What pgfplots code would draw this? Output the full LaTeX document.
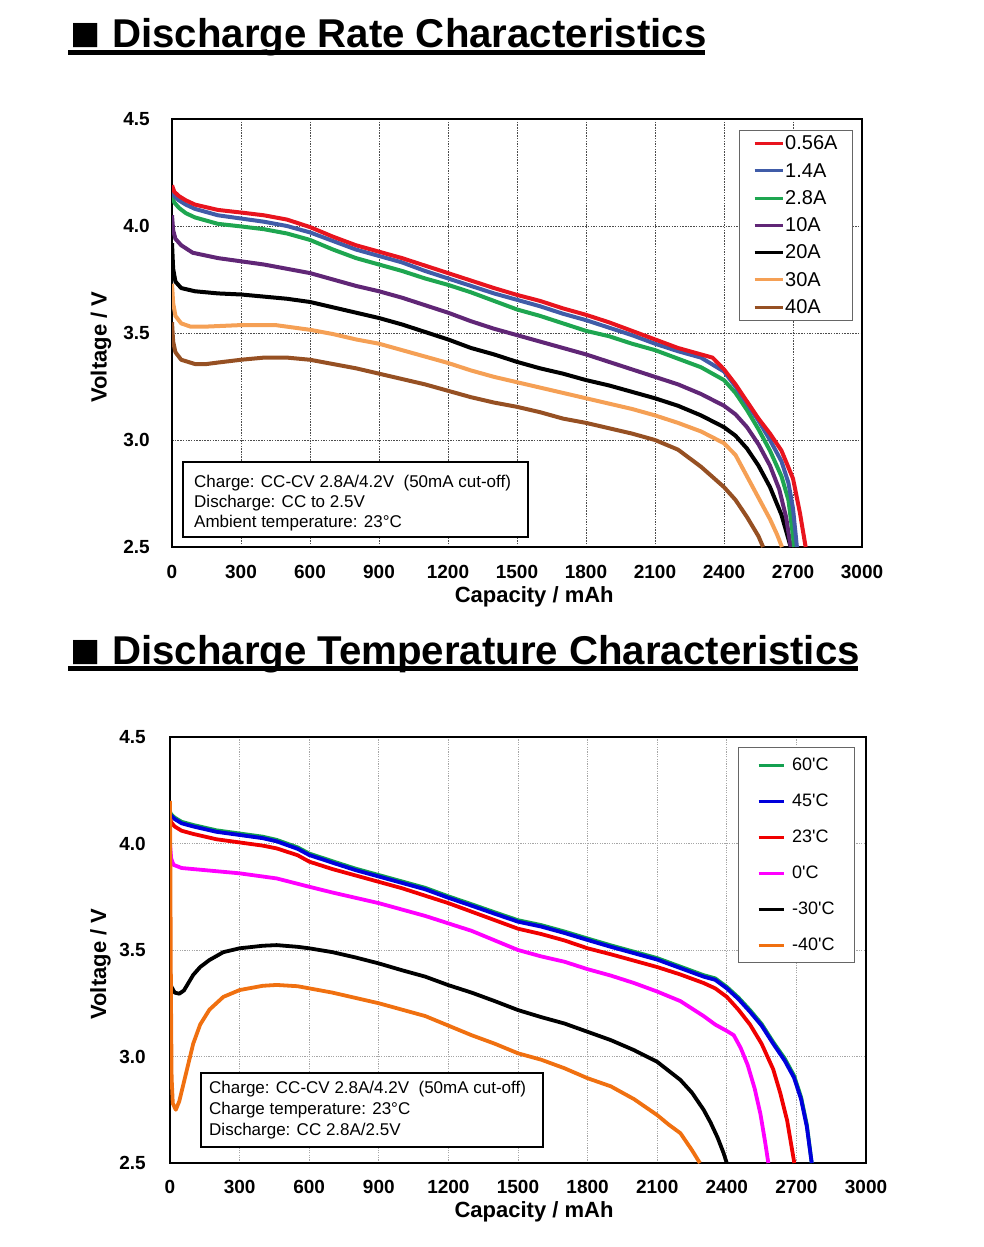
\documentclass[border=0pt]{standalone}
\usepackage{fontspec}
\setmainfont{Liberation Sans}
\usepackage{pgfplots}
\pgfplotsset{compat=1.18}
\definecolor{cRed}{RGB}{232,20,30}
\definecolor{cBlue}{RGB}{64,92,168}
\definecolor{cGreen}{RGB}{30,166,80}
\definecolor{cPurple}{RGB}{96,38,118}
\definecolor{cOrange}{RGB}{245,160,85}
\definecolor{cBrown}{RGB}{150,80,35}
\definecolor{tGreen}{RGB}{20,160,80}
\definecolor{tBlue}{RGB}{0,0,220}
\definecolor{tRed}{RGB}{240,0,0}
\definecolor{tMag}{RGB}{255,0,255}
\definecolor{tOrange}{RGB}{240,112,16}
\pgfplotsset{
 dchart/.style={
  scale only axis,
  xmin=0, xmax=3000, ymin=2.5, ymax=4.5,
  xtick={0,300,...,3000}, ytick={2.5,3.0,3.5,4.0,4.5},
  /pgf/number format/assume math mode=true,
  /pgf/number format/1000 sep={},
  yticklabel style={/pgf/number format/fixed, /pgf/number format/fixed zerofill, /pgf/number format/precision=1},
  ticklabel style={font=\fontsize{19}{19}\selectfont\bfseries, inner sep=0pt},
  label style={font=\fontsize{22}{22}\selectfont\bfseries},
  xlabel={Capacity / mAh}, ylabel={Voltage / V},
  grid=major,
  major tick length=0pt,
  axis line style={line width=2.5pt},
  legend cell align=left,
 }
}
\begin{document}
\begin{tikzpicture}
\path[use as bounding box] (0,0) rectangle (983pt,-1247pt);
% headings
\node[anchor=base west, inner sep=0pt, font=\fontsize{50}{50}\selectfont] at (70pt,-51pt) {■};
\node[anchor=base west, inner sep=0pt, font=\fontsize{40.2}{40}\selectfont\bfseries] at (112pt,-48pt) {Discharge Rate Characteristics};
\fill (68pt,-50pt) rectangle (705pt,-55pt);
\node[anchor=base west, inner sep=0pt, font=\fontsize{50}{50}\selectfont] at (70pt,-667pt) {■};
\node[anchor=base west, inner sep=0pt, font=\fontsize{40.2}{40}\selectfont\bfseries] at (112pt,-664pt) {Discharge Temperature Characteristics};
\fill (68pt,-666pt) rectangle (858pt,-671pt);

\begin{axis}[dchart, at={(172pt,-547pt)}, anchor=south west, width=690pt, height=428pt,
  xticklabel style={yshift=-18pt}, yticklabel style={xshift=-22pt},
  xlabel style={at={(axis description cs:0.525,-0.117)}, anchor=center},
  ylabel style={at={(axis description cs:-0.103,0.467)}, anchor=center},
  major grid style={gray!60!black, dash pattern=on 1.5pt off 1.2pt, line width=0.8pt},
  every axis plot/.append style={line width=4pt, line join=round},
  reverse legend,
  legend style={at={(1,1)}, anchor=north east, xshift=-9pt, yshift=-11pt, draw=gray!80!black, line width=1pt, fill=white,
    inner xsep=14pt, inner ysep=4.5pt, row sep=9.8pt, font=\fontsize{20}{20}\selectfont, nodes={inner sep=1pt}},
  legend image code/.code={\draw[line width=3pt] (0pt,0pt) -- (28pt,0pt);},
]
\addplot[cBrown] coordinates {(0,3.55)(5,3.46)(15,3.41)(40,3.375)(100,3.355)(150,3.355)(200,3.362)(300,3.375)(400,3.385)(500,3.385)(600,3.375)(700,3.355)(800,3.335)(900,3.31)(1000,3.285)(1100,3.26)(1200,3.23)(1300,3.20)(1400,3.175)(1500,3.155)(1600,3.13)(1700,3.10)(1800,3.08)(1900,3.055)(2000,3.03)(2100,3.0)(2200,2.955)(2300,2.875)(2400,2.78)(2450,2.72)(2500,2.64)(2550,2.55)(2570,2.5)};
\addlegendentry{40A}
\addplot[cOrange] coordinates {(0,3.73)(5,3.64)(15,3.58)(40,3.545)(80,3.53)(150,3.53)(300,3.537)(450,3.537)(600,3.515)(700,3.495)(800,3.47)(900,3.45)(1000,3.42)(1100,3.39)(1200,3.36)(1300,3.325)(1400,3.295)(1500,3.27)(1600,3.245)(1700,3.22)(1800,3.195)(1900,3.17)(2000,3.145)(2100,3.115)(2200,3.08)(2300,3.04)(2400,2.985)(2450,2.93)(2500,2.83)(2550,2.73)(2600,2.63)(2630,2.56)(2652,2.5)};
\addlegendentry{30A}
\addplot[black] coordinates {(0,3.92)(5,3.80)(15,3.74)(40,3.71)(100,3.695)(200,3.685)(300,3.68)(400,3.67)(500,3.66)(600,3.645)(700,3.62)(800,3.595)(900,3.57)(1000,3.54)(1100,3.505)(1200,3.47)(1300,3.43)(1400,3.40)(1500,3.365)(1600,3.335)(1700,3.31)(1800,3.28)(1900,3.255)(2000,3.225)(2100,3.195)(2200,3.16)(2300,3.115)(2400,3.06)(2450,3.02)(2500,2.96)(2550,2.88)(2600,2.78)(2650,2.65)(2690,2.5)};
\addlegendentry{20A}
\addplot[cPurple] coordinates {(0,4.05)(5,3.98)(15,3.94)(40,3.91)(90,3.875)(200,3.85)(300,3.835)(400,3.82)(500,3.80)(600,3.78)(700,3.75)(800,3.72)(900,3.695)(1000,3.665)(1100,3.63)(1200,3.595)(1300,3.555)(1400,3.52)(1500,3.49)(1600,3.46)(1700,3.43)(1800,3.40)(1900,3.365)(2000,3.33)(2100,3.295)(2200,3.26)(2300,3.215)(2400,3.16)(2450,3.12)(2500,3.06)(2550,2.98)(2600,2.88)(2640,2.77)(2670,2.64)(2690,2.5)};
\addlegendentry{10A}
\addplot[cGreen] coordinates {(0,4.14)(10,4.11)(30,4.085)(60,4.06)(100,4.04)(200,4.01)(300,3.998)(400,3.985)(500,3.965)(600,3.935)(700,3.89)(800,3.85)(900,3.82)(1000,3.79)(1100,3.755)(1200,3.725)(1300,3.69)(1400,3.65)(1500,3.61)(1600,3.58)(1700,3.545)(1800,3.51)(1900,3.485)(2000,3.45)(2100,3.42)(2200,3.38)(2300,3.34)(2400,3.28)(2450,3.22)(2500,3.14)(2550,3.05)(2600,2.95)(2650,2.83)(2680,2.72)(2700,2.55)(2705,2.5)};
\addlegendentry{2.8A}
\addplot[cBlue] coordinates {(0,4.165)(10,4.14)(30,4.12)(60,4.10)(100,4.08)(200,4.05)(300,4.035)(400,4.02)(500,4.00)(600,3.97)(700,3.93)(800,3.89)(900,3.86)(1000,3.83)(1100,3.79)(1200,3.755)(1300,3.72)(1400,3.685)(1500,3.655)(1600,3.625)(1700,3.59)(1800,3.56)(1900,3.525)(2000,3.49)(2100,3.45)(2200,3.415)(2300,3.385)(2400,3.32)(2450,3.25)(2500,3.17)(2550,3.09)(2600,3.00)(2650,2.90)(2680,2.80)(2700,2.68)(2717,2.5)};
\addlegendentry{1.4A}
\addplot[cRed] coordinates {(0,4.19)(10,4.16)(30,4.14)(60,4.12)(100,4.10)(200,4.075)(300,4.063)(400,4.05)(500,4.03)(600,3.995)(700,3.95)(800,3.91)(900,3.88)(1000,3.85)(1100,3.815)(1200,3.78)(1300,3.745)(1400,3.71)(1500,3.678)(1600,3.65)(1700,3.615)(1800,3.585)(1900,3.55)(2000,3.51)(2100,3.47)(2200,3.43)(2300,3.40)(2350,3.385)(2400,3.33)(2450,3.26)(2500,3.18)(2550,3.10)(2600,3.03)(2650,2.95)(2700,2.82)(2730,2.66)(2755,2.5)};
\addlegendentry{0.56A}
\end{axis}

\begin{axis}[dchart, at={(170pt,-1163pt)}, anchor=south west, width=696pt, height=426pt,
  xticklabel style={yshift=-17pt}, yticklabel style={xshift=-24pt},
  xlabel style={at={(axis description cs:0.523,-0.115)}, anchor=center},
  ylabel style={at={(axis description cs:-0.1,0.467)}, anchor=center},
  major grid style={gray!70, dash pattern=on 1.2pt off 1.2pt, line width=0.8pt},
  every axis plot/.append style={line width=3.8pt, line join=round},
  legend style={at={(1,1)}, anchor=north east, xshift=-11pt, yshift=-10pt, draw=gray!80!black, line width=1pt, fill=white,
    inner xsep=19pt, inner ysep=9.5pt, row sep=20pt, font=\fontsize{18}{18}\selectfont, nodes={inner sep=1pt},
    /tikz/every odd column/.append style={column sep=6pt}},
  legend image code/.code={\draw[line width=3pt] (0pt,0pt) -- (25pt,0pt);},
]
\addplot[tGreen] coordinates {(0,4.15)(5,4.137)(20,4.122)(50,4.102)(100,4.087)(200,4.062)(300,4.047)(400,4.032)(460,4.017)(550,3.982)(600,3.953)(700,3.917)(800,3.882)(900,3.852)(1000,3.822)(1100,3.792)(1200,3.752)(1300,3.715)(1400,3.677)(1500,3.64)(1600,3.617)(1700,3.587)(1800,3.554)(1900,3.522)(2000,3.492)(2100,3.462)(2200,3.422)(2300,3.382)(2350,3.367)(2400,3.327)(2450,3.277)(2500,3.218)(2550,3.153)(2600,3.068)(2650,2.99)(2690,2.91)(2720,2.81)(2745,2.68)(2766,2.5)};
\addlegendentry{60\textquotesingle C}
\addplot[tBlue] coordinates {(0,4.14)(5,4.13)(20,4.115)(50,4.095)(100,4.08)(200,4.055)(300,4.04)(400,4.025)(460,4.01)(550,3.975)(600,3.946)(700,3.91)(800,3.875)(900,3.845)(1000,3.815)(1100,3.785)(1200,3.745)(1300,3.708)(1400,3.67)(1500,3.633)(1600,3.61)(1700,3.58)(1800,3.547)(1900,3.515)(2000,3.485)(2100,3.455)(2200,3.415)(2300,3.375)(2350,3.36)(2400,3.32)(2450,3.27)(2500,3.21)(2550,3.145)(2600,3.06)(2650,2.98)(2690,2.90)(2720,2.80)(2745,2.67)(2766,2.5)};
\addlegendentry{45\textquotesingle C}
\addplot[tRed] coordinates {(0,4.12)(5,4.10)(20,4.08)(50,4.06)(100,4.045)(200,4.02)(300,4.005)(400,3.99)(460,3.977)(550,3.945)(600,3.915)(700,3.88)(800,3.85)(900,3.82)(1000,3.79)(1100,3.755)(1200,3.72)(1300,3.68)(1400,3.64)(1500,3.60)(1600,3.575)(1700,3.545)(1800,3.508)(1900,3.48)(2000,3.45)(2100,3.42)(2200,3.385)(2300,3.345)(2350,3.32)(2400,3.28)(2450,3.22)(2500,3.15)(2550,3.06)(2600,2.94)(2630,2.83)(2660,2.70)(2691,2.5)};
\addlegendentry{23\textquotesingle C}
\addplot[tMag] coordinates {(0,4.00)(5,3.93)(15,3.90)(50,3.885)(100,3.88)(200,3.87)(300,3.86)(460,3.836)(600,3.797)(700,3.77)(800,3.745)(900,3.72)(1000,3.69)(1100,3.66)(1200,3.625)(1300,3.59)(1400,3.545)(1500,3.50)(1600,3.47)(1700,3.445)(1800,3.41)(1900,3.38)(2000,3.345)(2100,3.305)(2200,3.26)(2300,3.19)(2350,3.15)(2400,3.12)(2430,3.10)(2460,3.04)(2490,2.96)(2520,2.85)(2545,2.73)(2565,2.60)(2579,2.5)};
\addlegendentry{0\textquotesingle C}
\addplot[black] coordinates {(0,3.40)(5,3.33)(20,3.30)(40,3.295)(60,3.31)(100,3.383)(130,3.42)(170,3.453)(230,3.49)(300,3.508)(400,3.52)(460,3.523)(550,3.515)(600,3.508)(700,3.49)(800,3.465)(900,3.437)(1000,3.405)(1100,3.375)(1200,3.335)(1300,3.30)(1400,3.26)(1500,3.218)(1600,3.185)(1700,3.155)(1800,3.116)(1900,3.077)(2000,3.03)(2100,2.975)(2200,2.89)(2250,2.83)(2300,2.75)(2330,2.69)(2360,2.62)(2385,2.55)(2400,2.5)};
\addlegendentry{-30\textquotesingle C}
\addplot[tOrange] coordinates {(0,4.20)(2,3.80)(4,3.30)(7,2.90)(12,2.78)(25,2.75)(40,2.79)(60,2.88)(80,2.97)(100,3.06)(130,3.15)(170,3.22)(230,3.28)(300,3.312)(400,3.332)(460,3.336)(550,3.33)(600,3.32)(700,3.30)(800,3.275)(900,3.25)(1000,3.22)(1100,3.19)(1200,3.145)(1300,3.10)(1400,3.06)(1500,3.015)(1600,2.985)(1700,2.945)(1800,2.898)(1900,2.86)(2000,2.80)(2100,2.725)(2150,2.68)(2200,2.64)(2250,2.56)(2284,2.5)};
\addlegendentry{-40\textquotesingle C}
\end{axis}

% condition boxes
\draw[line width=2.5pt, fill=white] (183pt,-462pt) rectangle (528pt,-537pt);
\begin{scope}[every node/.style={anchor=base west, inner sep=0pt, font=\fontsize{17}{17}\selectfont}]
\node at (194pt,-487pt) {Charge: CC-CV 2.8A/4.2V\ \ (50mA cut-off)};
\node at (194pt,-507pt) {Discharge: CC to 2.5V};
\node at (194pt,-527pt) {Ambient temperature: 23\textdegree C};
\end{scope}
\draw[line width=2pt, fill=white] (201pt,-1073pt) rectangle (543pt,-1147pt);
\begin{scope}[every node/.style={anchor=base west, inner sep=0pt, font=\fontsize{17}{17}\selectfont}]
\node at (209pt,-1093pt) {Charge: CC-CV 2.8A/4.2V\ \ (50mA cut-off)};
\node at (209pt,-1114pt) {Charge temperature: 23\textdegree C};
\node at (209pt,-1135pt) {Discharge: CC 2.8A/2.5V};
\end{scope}
\end{tikzpicture}
\end{document}
